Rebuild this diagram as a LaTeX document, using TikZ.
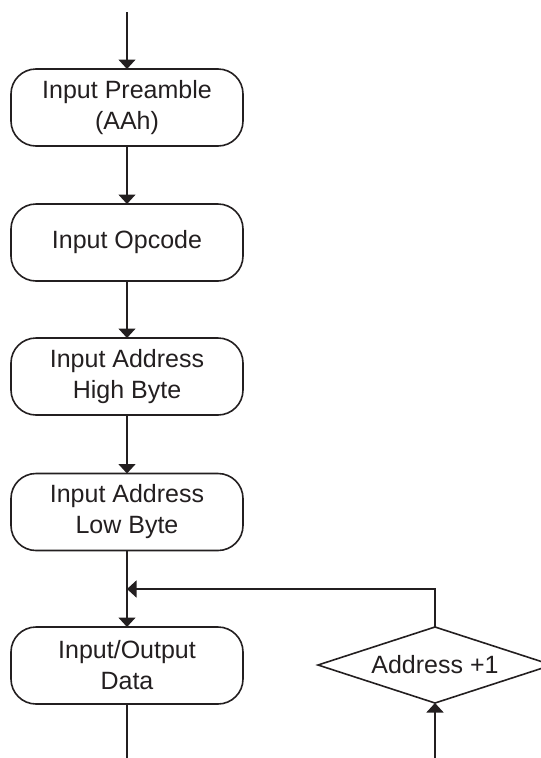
\documentclass[tikz,border=0pt]{standalone}
\usepackage{fontspec}
\setmainfont{Liberation Sans}
\usetikzlibrary{shapes.geometric,arrows.meta}
\definecolor{ink}{HTML}{231F20}
\begin{document}
\begin{tikzpicture}[x=1pt,y=1pt,
  every node/.style={font=\fontsize{25}{31}\selectfont, text=ink},
  procbox/.style={draw=ink, line width=1.6pt, rounded corners=25pt,
    minimum width=232pt, minimum height=77pt, inner sep=0pt, outer sep=0pt,
    align=center},
  decbox/.style={draw=ink, line width=1.6pt, diamond, shape aspect=3.08,
    inner sep=0pt, outer sep=0pt, minimum width=234pt, minimum height=76pt},
  conn/.style={draw=ink, line width=1.6pt},
  arr/.style={conn, -{Triangle[length=9.5pt,width=17pt]}}]
\useasboundingbox (0,0) rectangle (541,-758);
\node[procbox] (b1) at (127,-107.5) {Input Preamble\\(AAh)};
\node[procbox] (b2) at (127,-242.5) {Input Opcode};
\node[procbox] (b3) at (127,-376.5) {Input Address\\High Byte};
\node[procbox] (b4) at (127,-512) {Input Address\\Low Byte};
\node[procbox] (b5) at (127,-665.5) {Input/Output\\Data};
\node[decbox] (d) at (435,-665) {Address +1};
\coordinate (top) at (127,-12);
\coordinate (join) at (127,-589);
\coordinate (bl) at (127,-758);
\coordinate (br) at (435,-758);
\draw[arr] (top) -- (b1.north);
\draw[arr] (b1.south) -- (b2.north);
\draw[arr] (b2.south) -- (b3.north);
\draw[arr] (b3.south) -- (b4.north);
\draw[arr] (b4.south) -- (b5.north);
\draw[arr] (d.north) |- (join);
\draw[conn] (b5.south) -- (bl);
\draw[arr] (br) -- (d.south);
\end{tikzpicture}
\end{document}
